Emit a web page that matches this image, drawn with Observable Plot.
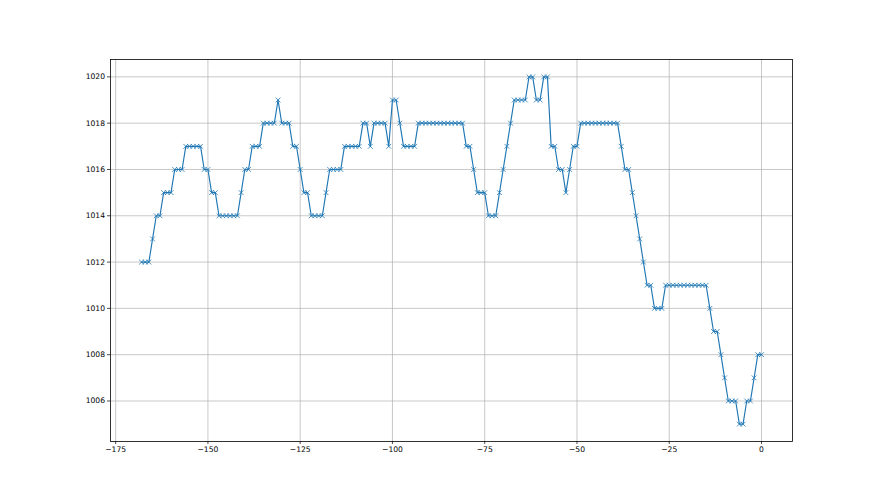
<!DOCTYPE html>
<html>
<head>
<meta charset="utf-8">
<script src="https://cdn.jsdelivr.net/npm/d3@7"></script>
<script src="https://cdn.jsdelivr.net/npm/@observablehq/plot@0.6"></script>
<style>
  html, body { margin: 0; padding: 0; background: #fff; }
  #chart svg { display: block; }
</style>
</head>
<body>
<div id="chart"></div>
<script>
const hours = [
  -168,-167,-166,-165,-164,-163,-162,-161,-160,-159,
  -158,-157,-156,-155,-154,-153,-152,-151,-150,-149,
  -148,-147,-146,-145,-144,-143,-142,-141,-140,-139,
  -138,-137,-136,-135,-134,-133,-132,-131,-130,-129,
  -128,-127,-126,-125,-124,-123,-122,-121,-120,-119,
  -118,-117,-116,-115,-114,-113,-112,-111,-110,-109,
  -108,-107,-106,-105,-104,-103,-102,-101,-100,-99,
  -98,-97,-96,-95,-94,-93,-92,-91,-90,-89,
  -88,-87,-86,-85,-84,-83,-82,-81,-80,-79,
  -78,-77,-76,-75,-74,-73,-72,-71,-70,-69,
  -68,-67,-66,-65,-64,-63,-62,-61,-60,-59,
  -58,-57,-56,-55,-54,-53,-52,-51,-50,-49,
  -48,-47,-46,-45,-44,-43,-42,-41,-40,-39,
  -38,-37,-36,-35,-34,-33,-32,-31,-30,-29,
  -28,-27,-26,-25,-24,-23,-22,-21,-20,-19,
  -18,-17,-16,-15,-14,-13,-12,-11,-10,-9,
  -8,-7,-6,-5,-4,-3,-2,-1,0
];
const pressure = [
  1012,1012,1012,1013,1014,1014,1015,1015,1015,1016,
  1016,1016,1017,1017,1017,1017,1017,1016,1016,1015,
  1015,1014,1014,1014,1014,1014,1014,1015,1016,1016,
  1017,1017,1017,1018,1018,1018,1018,1019,1018,1018,
  1018,1017,1017,1016,1015,1015,1014,1014,1014,1014,
  1015,1016,1016,1016,1016,1017,1017,1017,1017,1017,
  1018,1018,1017,1018,1018,1018,1018,1017,1019,1019,
  1018,1017,1017,1017,1017,1018,1018,1018,1018,1018,
  1018,1018,1018,1018,1018,1018,1018,1018,1017,1017,
  1016,1015,1015,1015,1014,1014,1014,1015,1016,1017,
  1018,1019,1019,1019,1019,1020,1020,1019,1019,1020,
  1020,1017,1017,1016,1016,1015,1016,1017,1017,1018,
  1018,1018,1018,1018,1018,1018,1018,1018,1018,1018,
  1017,1016,1016,1015,1014,1013,1012,1011,1011,1010,
  1010,1010,1011,1011,1011,1011,1011,1011,1011,1011,
  1011,1011,1011,1011,1010,1009,1009,1008,1007,1006,
  1006,1006,1005,1005,1006,1006,1007,1008,1008
];
const xTicks = [-175, -150, -125, -100, -75, -50, -25, 0];
const yTicks = [1006, 1008, 1010, 1012, 1014, 1016, 1018, 1020];

const data = hours.map((h, i) => ({x: h, y: pressure[i]}));
const fmt = d => d < 0 ? "\u2212" + Math.abs(d) : String(d);
const blue = "#1f77b4";

const chart = Plot.plot({
  width: 880,
  height: 495,
  marginLeft: 110,
  marginRight: 88,
  marginTop: 59,
  marginBottom: 54,
  style: {fontFamily: "DejaVu Sans, sans-serif", fontSize: "7.6px", color: "#000", background: "#fff"},
  x: {domain: [-176.4, 8.4]},
  y: {domain: [1004.25, 1020.75]},
  marks: [
    Plot.gridX(xTicks, {stroke: "#b0b0b0", strokeOpacity: 1, strokeWidth: 0.7}),
    Plot.gridY(yTicks, {stroke: "#b0b0b0", strokeOpacity: 1, strokeWidth: 0.7}),
    Plot.line(data, {x: "x", y: "y", stroke: blue, strokeWidth: 1.15}),
    Plot.dot(data, {x: "x", y: "y", symbol: "times", r: 2.3, stroke: blue, strokeWidth: 0.8}),
    Plot.frame({stroke: "#000", strokeWidth: 0.8}),
    Plot.axisX(xTicks, {tickFormat: fmt, tickSize: 3, tickPadding: 2.5, label: null, strokeWidth: 0.7}),
    Plot.axisY(yTicks, {tickFormat: fmt, tickSize: 3, tickPadding: 2.5, label: null, strokeWidth: 0.7})
  ]
});
document.getElementById("chart").appendChild(chart);
</script>
</body>
</html>
